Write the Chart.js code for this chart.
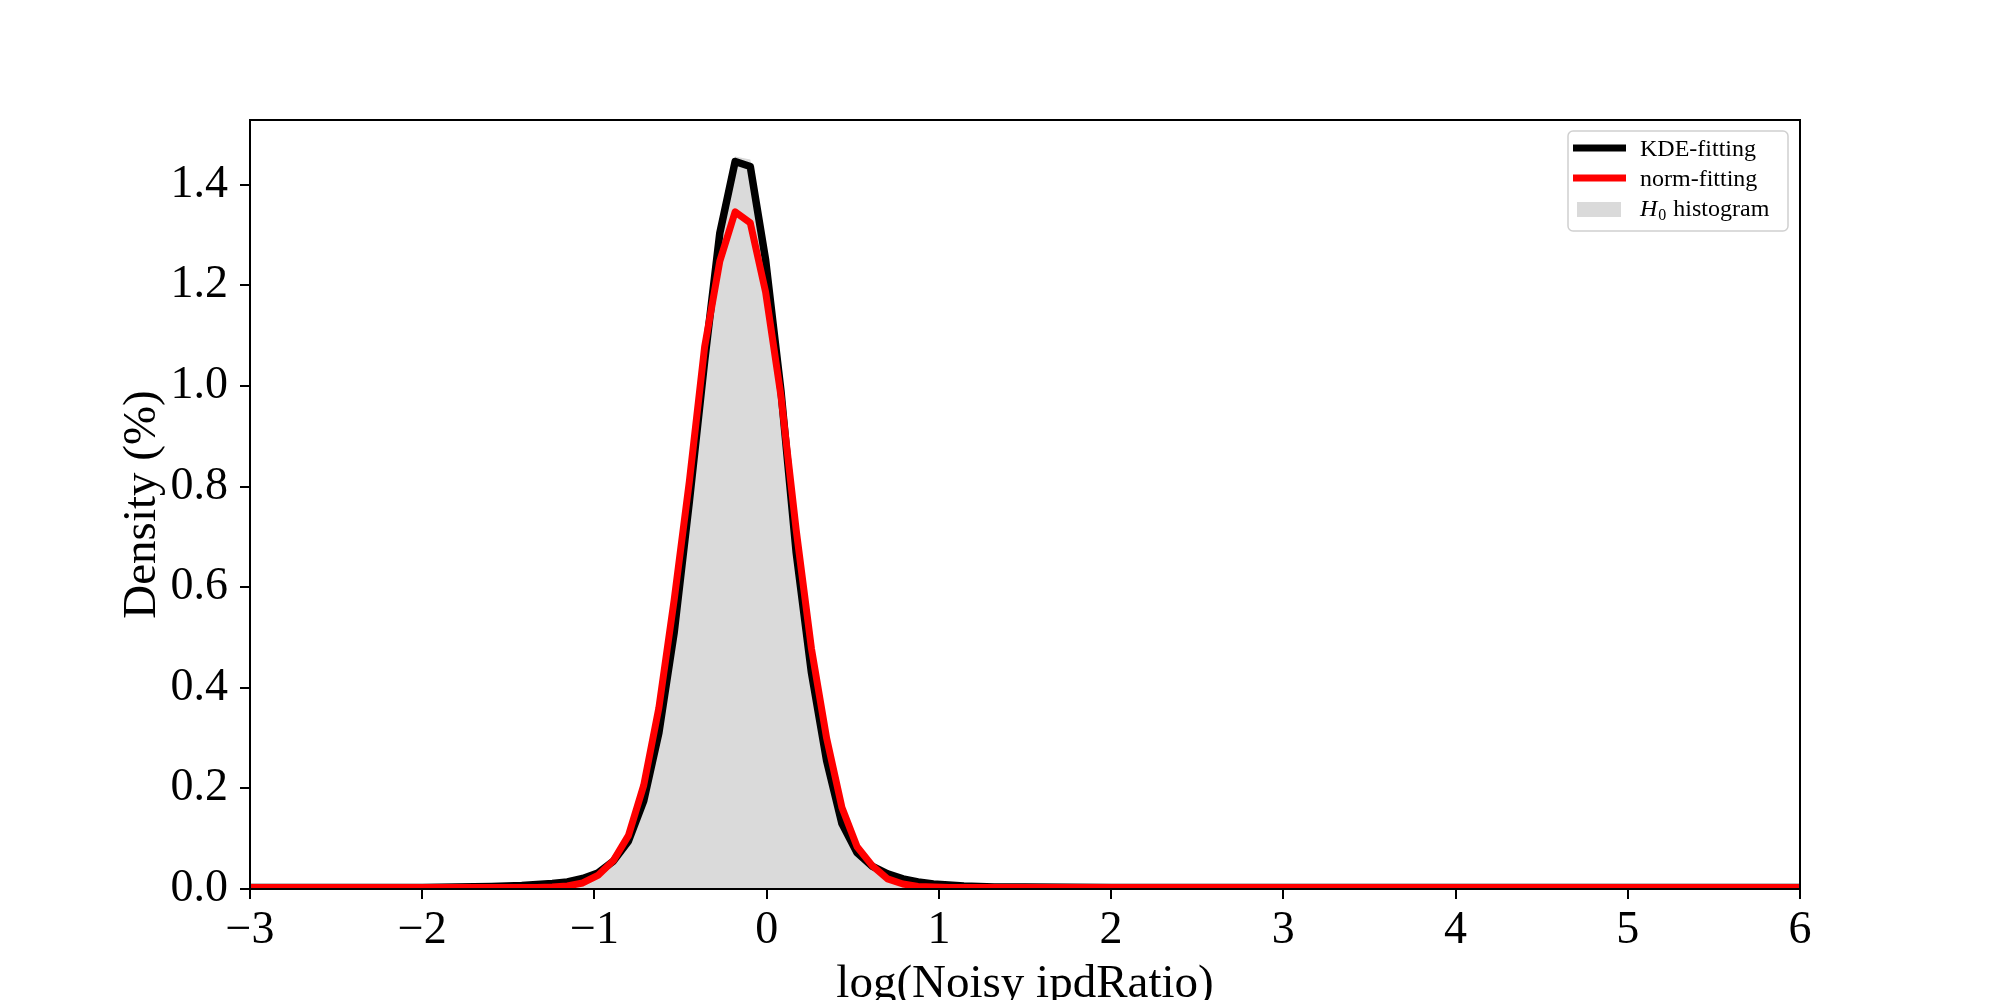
<!DOCTYPE html>
<html>
<head>
<meta charset="utf-8">
<script src="https://cdn.jsdelivr.net/npm/chart.js@4/dist/chart.umd.min.js"></script>
<style>
  html, body { margin: 0; padding: 0; background: #fff; }
  #wrap { width: 2000px; height: 1000px; }
</style>
</head>
<body>
<div id="wrap"><canvas id="myChart" width="2000" height="1000"></canvas></div>
<script>
// data
var xs = [-3, -2.5, -2.0, -1.8, -1.599, -1.511, -1.422, -1.334, -1.245, -1.157, -1.068, -0.980,
  -0.891, -0.803, -0.714, -0.626, -0.537, -0.449, -0.360, -0.272, -0.183, -0.095, -0.006,
  0.083, 0.171, 0.260, 0.348, 0.437, 0.525, 0.614, 0.702, 0.791, 0.879, 0.968, 1.056,
  1.145, 1.233, 1.322, 1.5, 2, 3, 4, 5, 6]
var kdeVals = [0.003, 0.003, 0.003, 0.004, 0.005, 0.006, 0.007, 0.009, 0.011, 0.014, 0.021, 0.032,
  0.055, 0.095, 0.175, 0.31, 0.51, 0.77, 1.05, 1.304, 1.446, 1.436, 1.25,
  0.99, 0.67, 0.43, 0.255, 0.13, 0.072, 0.045, 0.03, 0.02, 0.014, 0.010, 0.008,
  0.006, 0.005, 0.004, 0.004, 0.003, 0.003, 0.003, 0.003, 0.003]
var normVals = [0.003, 0.003, 0.003, 0.003, 0.003, 0.003, 0.003, 0.003, 0.004, 0.006, 0.012, 0.027,
  0.056, 0.106, 0.206, 0.360, 0.575, 0.810, 1.078, 1.248, 1.346, 1.324, 1.186,
  0.980, 0.715, 0.478, 0.300, 0.162, 0.084, 0.046, 0.020, 0.010, 0.005, 0.004, 0.003,
  0.003, 0.003, 0.003, 0.003, 0.003, 0.003, 0.003, 0.003, 0.003]
var histVals = [0, 0, 0, 0, 0.001, 0.002, 0.003, 0.005, 0.008, 0.012, 0.019, 0.030,
  0.053, 0.093, 0.175, 0.31, 0.51, 0.77, 1.05, 1.31, 1.456, 1.45, 1.25,
  0.99, 0.67, 0.43, 0.25, 0.13, 0.07, 0.043, 0.028, 0.018, 0.012, 0.008, 0.006,
  0.004, 0.003, 0.002, 0.001, 0, 0, 0, 0, 0]
var xTicks = [-3, -2, -1, 0, 1, 2, 3, 4, 5, 6]
var yTicks = [0, 0.2, 0.4, 0.6, 0.8, 1.0, 1.2, 1.4]
var legendLabels = ['KDE-fitting', 'norm-fitting', 'histogram']

var serif = '"Liberation Serif", "DejaVu Serif", serif'

function pts(vals) { //pair x grid with values
  return xs.map(function (x, i) { return {x: x, y: vals[i]} })
}

//frame, axis titles and legend
var extras = {
  id: 'extras',
  afterDraw: function (chart) {
    var ctx = chart.ctx
    var a = chart.chartArea
    ctx.save()
    ctx.strokeStyle = '#000'
    ctx.lineWidth = 2
    ctx.strokeRect(a.left, a.top, a.right - a.left, a.bottom - a.top)

    // axis titles
    ctx.fillStyle = '#000'
    ctx.font = '47px ' + serif
    ctx.textAlign = 'center'
    ctx.textBaseline = 'alphabetic'
    ctx.fillText('log(Noisy ipdRatio)', (a.left + a.right) / 2, 997)
    ctx.save()
    ctx.translate(155, (a.top + a.bottom) / 2)
    ctx.rotate(-Math.PI / 2)
    ctx.fillText('Density (%)', 0, 0)
    ctx.restore()

    // legend
    var bx = a.right - 232, by = a.top + 11, bw = 220, bh = 100
    ctx.beginPath()
    ctx.roundRect(bx, by, bw, bh, 5)
    ctx.fillStyle = 'rgba(255,255,255,0.8)'
    ctx.fill()
    ctx.strokeStyle = '#d0d0d0'
    ctx.lineWidth = 1.5
    ctx.stroke()

    ctx.lineWidth = 7
    ctx.lineCap = 'butt'
    ctx.strokeStyle = '#000'
    ctx.beginPath(); ctx.moveTo(bx + 5, by + 17); ctx.lineTo(bx + 58, by + 17); ctx.stroke()
    ctx.strokeStyle = '#ff0000'
    ctx.beginPath(); ctx.moveTo(bx + 5, by + 47); ctx.lineTo(bx + 58, by + 47); ctx.stroke()
    ctx.fillStyle = '#dadada'
    ctx.fillRect(bx + 9, by + 71, 44, 15)

    ctx.fillStyle = '#000'
    ctx.textAlign = 'left'
    ctx.font = '24px ' + serif
    ctx.fillText(legendLabels[0], bx + 72, by + 25)
    ctx.fillText(legendLabels[1], bx + 72, by + 55)
    ctx.font = 'italic 24px ' + serif
    ctx.fillText('H', bx + 72, by + 85)
    var hw = ctx.measureText('H').width
    ctx.font = '16px ' + serif
    ctx.fillText('0', bx + 72 + hw + 1, by + 89)
    var zw = ctx.measureText('0').width
    ctx.font = '24px ' + serif
    ctx.fillText(' ' + legendLabels[2], bx + 72 + hw + zw + 2, by + 85)
    ctx.restore()
  }
}

var ctx = document.getElementById('myChart')
var myChart = new Chart(ctx, {
  type: 'line',
  data: {
    datasets: [{
      label: legendLabels[1],
      data: pts(normVals),
      borderColor: '#ff0000',
      borderWidth: 7,
      borderJoinStyle: 'round',
      pointRadius: 0,
      fill: false,
      clip: 0,
      order: 0
    }, {
      label: legendLabels[0],
      data: pts(kdeVals),
      borderColor: '#000000',
      borderWidth: 7.5,
      borderJoinStyle: 'round',
      pointRadius: 0,
      fill: false,
      clip: 0,
      order: 1
    }, {
      label: legendLabels[2],
      data: pts(histVals),
      borderWidth: 0,
      borderColor: 'rgba(0,0,0,0)',
      backgroundColor: '#dadada',
      pointRadius: 0,
      fill: 'origin',
      clip: 0,
      order: 2
    }]
  },
  options: {
    responsive: false,
    animation: false,
    devicePixelRatio: 1,
    layout: { padding: { left: 0, right: 200, top: 120, bottom: 0 } },
    plugins: { legend: { display: false }, tooltip: { enabled: false } },
    scales: {
      x: {
        type: 'linear',
        min: -3,
        max: 6,
        afterFit: function (s) { s.height = 111 },
        afterBuildTicks: function (s) { s.ticks = xTicks.map(function (v) { return {value: v} }) },
        grid: { drawOnChartArea: false, drawTicks: true, tickLength: 10, color: '#000', lineWidth: 2 },
        border: { display: true, color: '#000', width: 2 },
        ticks: {
          color: '#000',
          padding: 4,
          maxRotation: 0,
          font: { family: serif, size: 46 },
          callback: function (v) { return v < 0 ? '\u2212' + (-v) : String(v) }
        }
      },
      y: {
        type: 'linear',
        min: 0,
        max: 1.5285,
        afterFit: function (s) { s.width = 250 },
        afterBuildTicks: function (s) { s.ticks = yTicks.map(function (v) { return {value: v} }) },
        grid: { drawOnChartArea: false, drawTicks: true, tickLength: 10, color: '#000', lineWidth: 2 },
        border: { display: true, color: '#000', width: 2 },
        ticks: {
          color: '#000',
          padding: 12,
          font: { family: serif, size: 46 },
          callback: function (v) { return v.toFixed(1) }
        }
      }
    }
  },
  plugins: [extras]
})
</script>
</body>
</html>
